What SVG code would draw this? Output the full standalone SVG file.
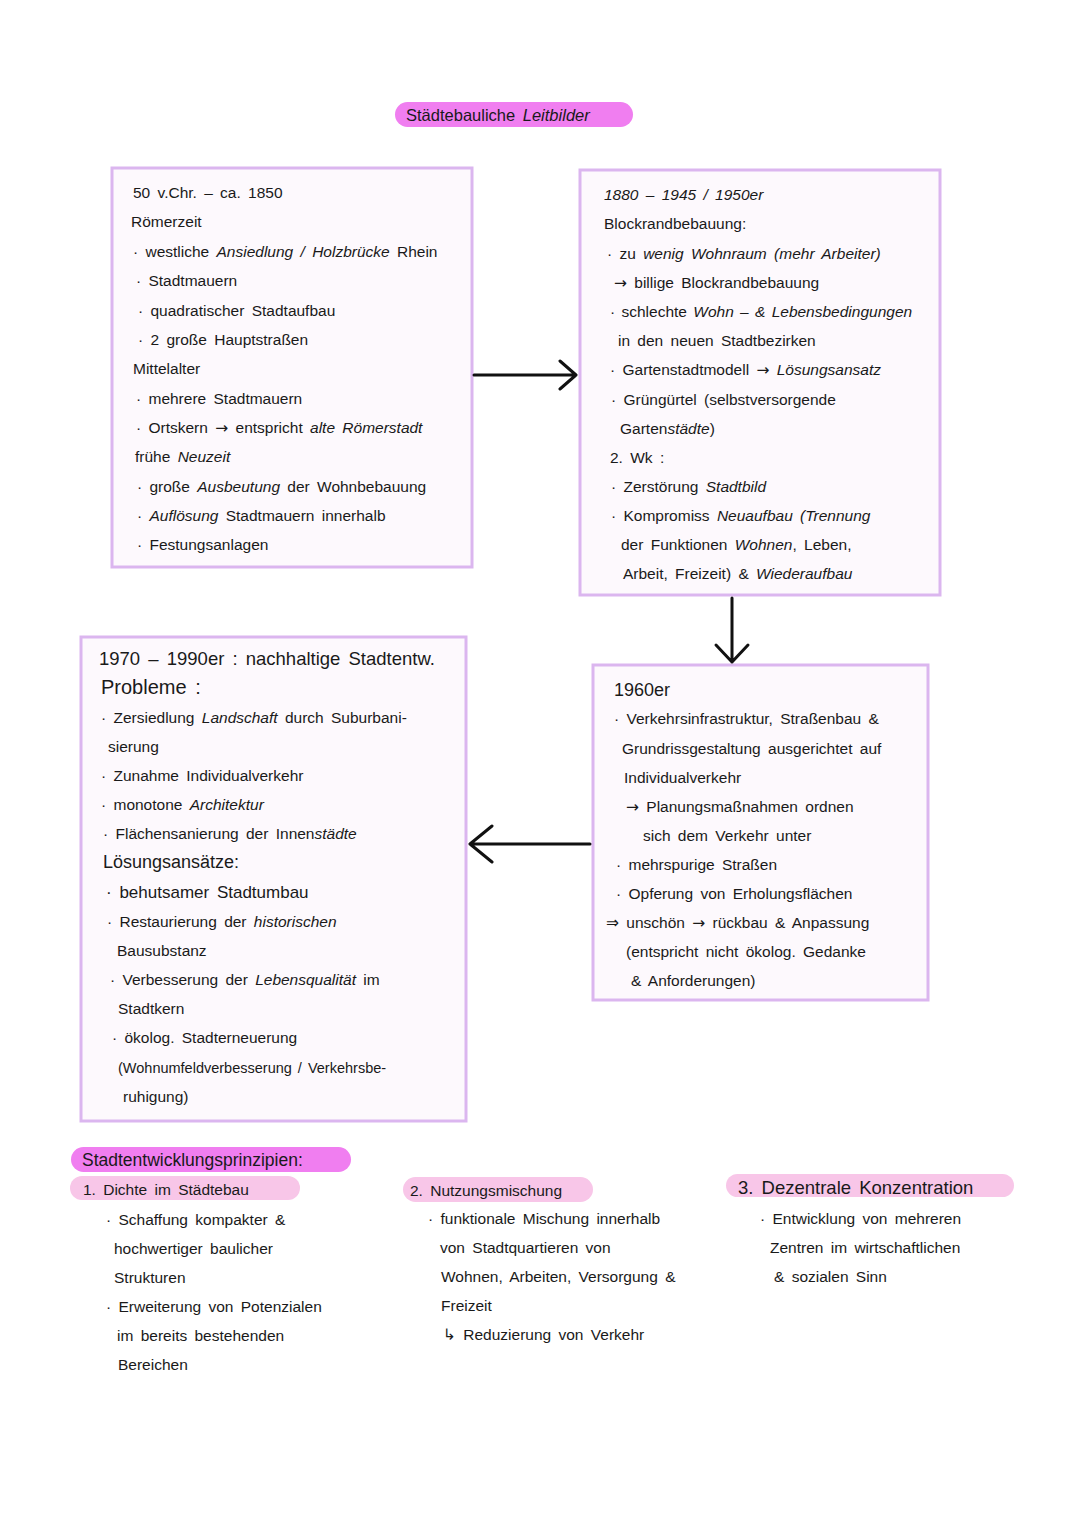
<svg xmlns="http://www.w3.org/2000/svg" width="1080" height="1527" viewBox="0 0 1080 1527">
<style>
.bg{fill:#ffffff}
.box{fill:#fdf9fd;stroke:#dbb6ef;stroke-width:3}
.t{font-family:"Liberation Sans","DejaVu Sans",sans-serif;font-size:15.5px;fill:#1a1a1a;word-spacing:3px}
.h{font-size:18px}
.i{font-style:italic}
.a{font-family:"DejaVu Sans",sans-serif;font-style:normal}
.pill1{fill:#f07ef0}
.pill2{fill:#f8c6e8}
.conn{stroke:#111;stroke-width:3;fill:none;stroke-linecap:round;stroke-linejoin:round}
</style>
<rect class="bg" x="0" y="0" width="1080" height="1527"/>

<g id="title">
<rect class="pill1" x="395" y="102" width="238" height="25" rx="12.5"/>
<text class="t" x="406" y="121" style="font-size:16.5px">Städtebauliche <tspan class="i">Leitbilder</tspan></text>
</g>

<g id="node-roemerzeit">
<rect class="box" x="112" y="168" width="360" height="399"/>
<text class="t" x="133" y="198">50 v.Chr. – ca. 1850</text>
<text class="t" x="131" y="227">Römerzeit</text>
<text class="t" x="133" y="257">· westliche <tspan class="i">Ansiedlung / Holzbrücke</tspan> Rhein</text>
<text class="t" x="136" y="286">· Stadtmauern</text>
<text class="t" x="138" y="316">· quadratischer Stadtaufbau</text>
<text class="t" x="138" y="345">· 2 große Hauptstraßen</text>
<text class="t" x="133" y="374">Mittelalter</text>
<text class="t" x="136" y="404">· mehrere Stadtmauern</text>
<text class="t" x="136" y="433">· Ortskern <tspan class="a">→</tspan> entspricht <tspan class="i">alte Römerstadt</tspan></text>
<text class="t" x="135" y="462">frühe <tspan class="i">Neuzeit</tspan></text>
<text class="t" x="137" y="492">· große <tspan class="i">Ausbeutung</tspan> der Wohnbebauung</text>
<text class="t" x="137" y="521">· <tspan class="i">Auflösung</tspan> Stadtmauern innerhalb</text>
<text class="t" x="137" y="550">· Festungsanlagen</text>
</g>

<g id="node-blockrand">
<rect class="box" x="580" y="170" width="360" height="425"/>
<text class="t i" x="604" y="200">1880 – 1945 / 1950er</text>
<text class="t" x="604" y="229">Blockrandbebauung:</text>
<text class="t" x="607" y="259">· zu <tspan class="i">wenig Wohnraum (mehr Arbeiter)</tspan></text>
<text class="t" x="614" y="288"><tspan class="a">→</tspan> billige Blockrandbebauung</text>
<text class="t" x="610" y="317" style="word-spacing:2px">· schlechte <tspan class="i">Wohn – &amp; Lebensbedingungen</tspan></text>
<text class="t" x="618" y="346">in den neuen Stadtbezirken</text>
<text class="t" x="610" y="375">· Gartenstadtmodell <tspan class="a">→</tspan> <tspan class="i">Lösungsansatz</tspan></text>
<text class="t" x="611" y="405">· Grüngürtel (selbstversorgende</text>
<text class="t" x="620" y="434">Garten<tspan class="i">städte</tspan>)</text>
<text class="t" x="610" y="463">2. Wk :</text>
<text class="t" x="611" y="492">· Zerstörung <tspan class="i">Stadtbild</tspan></text>
<text class="t" x="611" y="521">· Kompromiss <tspan class="i">Neuaufbau (Trennung</tspan></text>
<text class="t" x="621" y="550">der Funktionen <tspan class="i">Wohnen</tspan>, Leben,</text>
<text class="t" x="623" y="579">Arbeit, Freizeit) &amp; <tspan class="i">Wiederaufbau</tspan></text>
</g>

<g id="node-1960er">
<rect class="box" x="593" y="665" width="335" height="335"/>
<text class="t h" x="614" y="696">1960er</text>
<text class="t" x="614" y="724">· Verkehrsinfrastruktur, Straßenbau &amp;</text>
<text class="t" x="622" y="754">Grundrissgestaltung ausgerichtet auf</text>
<text class="t" x="624" y="783">Individualverkehr</text>
<text class="t" x="626" y="812"><tspan class="a">→</tspan> Planungsmaßnahmen ordnen</text>
<text class="t" x="643" y="841">sich dem Verkehr unter</text>
<text class="t" x="616" y="870">· mehrspurige Straßen</text>
<text class="t" x="616" y="899">· Opferung von Erholungsflächen</text>
<text class="t" x="606" y="928"><tspan class="a">⇒</tspan> unschön <tspan class="a">→</tspan> rückbau &amp; Anpassung</text>
<text class="t" x="626" y="957">(entspricht nicht ökolog. Gedanke</text>
<text class="t" x="631" y="986">&amp; Anforderungen)</text>
</g>

<g id="node-1970er">
<rect class="box" x="81" y="637" width="385" height="484"/>
<text class="t" x="99" y="665" style="font-size:18.5px">1970 – 1990er : nachhaltige Stadtentw.</text>
<text class="t" x="101" y="694" style="font-size:20px">Probleme :</text>
<text class="t" x="101" y="723">· Zersiedlung <tspan class="i">Landschaft</tspan> durch Suburbani-</text>
<text class="t" x="108" y="752">sierung</text>
<text class="t" x="101" y="781">· Zunahme Individualverkehr</text>
<text class="t" x="101" y="810">· monotone <tspan class="i">Architektur</tspan></text>
<text class="t" x="103" y="839">· Flächensanierung der Innen<tspan class="i">städte</tspan></text>
<text class="t h" x="103" y="868">Lösungsansätze:</text>
<text class="t" x="106" y="898" style="font-size:17px">· behutsamer Stadtumbau</text>
<text class="t" x="107" y="927">· Restaurierung der <tspan class="i">historischen</tspan></text>
<text class="t" x="117" y="956">Bausubstanz</text>
<text class="t" x="110" y="985">· Verbesserung der <tspan class="i">Lebensqualität</tspan> im</text>
<text class="t" x="118" y="1014">Stadtkern</text>
<text class="t" x="112" y="1043">· ökolog. Stadterneuerung</text>
<text class="t" x="118" y="1073" style="font-size:14.5px;word-spacing:2px">(Wohnumfeldverbesserung / Verkehrsbe-</text>
<text class="t" x="123" y="1102">ruhigung)</text>
</g>

<g id="connectors">
<path class="conn" d="M474 375 H576 M560 361 L576 375 L560 389"/>
<path class="conn" d="M732 598 V662 M716 645 L732 662 L748 645"/>
<path class="conn" d="M590 844 H470 M492 826 L470 844 L492 862"/>
</g>

<g id="principles-header">
<rect class="pill1" x="71" y="1147" width="280" height="25" rx="12.5"/>
<text class="t" x="82" y="1166" style="font-size:17.5px;word-spacing:0">Stadtentwicklungsprinzipien:</text>
</g>

<g id="principle-1">
<rect class="pill2" x="70" y="1176" width="230" height="24" rx="12"/>
<text class="t" x="83" y="1195">1. Dichte im Städtebau</text>
<text class="t" x="106" y="1225">· Schaffung kompakter &amp;</text>
<text class="t" x="114" y="1254">hochwertiger baulicher</text>
<text class="t" x="114" y="1283">Strukturen</text>
<text class="t" x="106" y="1312">· Erweiterung von Potenzialen</text>
<text class="t" x="117" y="1341">im bereits bestehenden</text>
<text class="t" x="118" y="1370">Bereichen</text>
</g>

<g id="principle-2">
<rect class="pill2" x="403" y="1177" width="190" height="25" rx="12.5"/>
<text class="t" x="410" y="1196">2. Nutzungsmischung</text>
<text class="t" x="428" y="1224">· funktionale Mischung innerhalb</text>
<text class="t" x="440" y="1253">von Stadtquartieren von</text>
<text class="t" x="441" y="1282">Wohnen, Arbeiten, Versorgung &amp;</text>
<text class="t" x="441" y="1311">Freizeit</text>
<text class="t" x="443" y="1340"><tspan class="a">↳</tspan> Reduzierung von Verkehr</text>
</g>

<g id="principle-3">
<rect class="pill2" x="726" y="1174" width="288" height="23" rx="11.5"/>
<text class="t" x="738" y="1194" style="font-size:18.5px">3. Dezentrale Konzentration</text>
<text class="t" x="760" y="1224">· Entwicklung von mehreren</text>
<text class="t" x="770" y="1253">Zentren im wirtschaftlichen</text>
<text class="t" x="774" y="1282">&amp; sozialen Sinn</text>
</g>
</svg>
